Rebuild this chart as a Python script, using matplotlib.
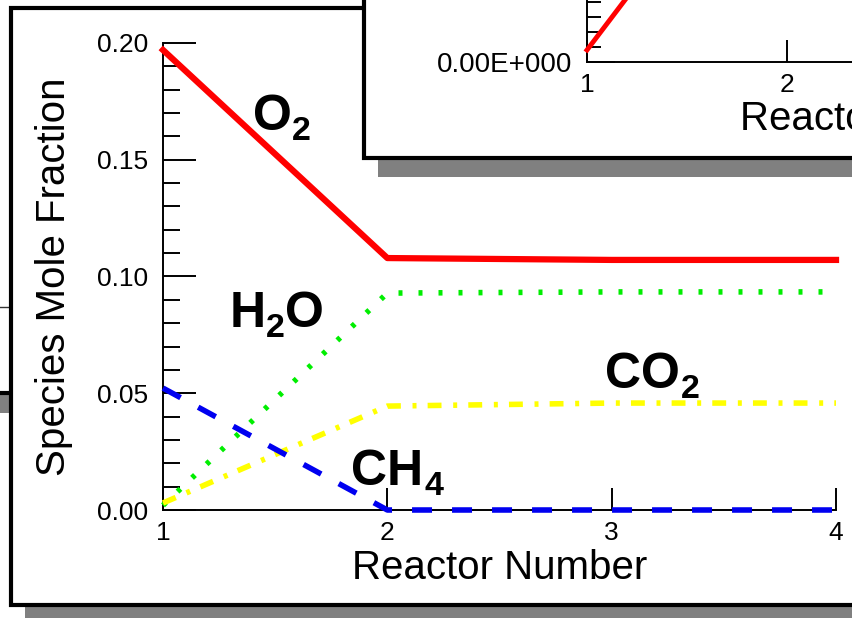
import matplotlib
matplotlib.use("Agg")
import matplotlib.pyplot as plt
from matplotlib.patches import Rectangle
from matplotlib.lines import Line2D
from matplotlib.ticker import FixedLocator, MultipleLocator, FuncFormatter

plt.rcParams["font.family"] = ["Liberation Sans", "DejaVu Sans"]

# species mole fractions along the reactor chain
reactor = [1, 2, 3, 4]
o2 = [0.197, 0.1079, 0.1071, 0.1071]
h2o = [0.002, 0.0929, 0.0934, 0.0934]
co2 = [0.003, 0.0445, 0.0458, 0.0458]
ch4 = [0.0522, 0.0, 0.0, 0.0]

# inset series (only its first reactor segment is visible)
inset_reactor = [1, 2]
inset_value = [0.8e-4, 18.4e-4]

W, H = 853, 618
fig = plt.figure(figsize=(W / 100, H / 100), dpi=100)
fig.patch.set_facecolor("white")


def px_rect(x0, y0, x1, y1, **kw):
    """Rectangle given in pixel coordinates (origin top-left)."""
    r = Rectangle((x0 / W, 1 - y1 / H), (x1 - x0) / W, (y1 - y0) / H,
                  transform=fig.transFigure, **kw)
    fig.add_artist(r)
    return r


def px_hline(y, x0, x1, **kw):
    fig.add_artist(Line2D([x0 / W, x1 / W], [1 - y / H] * 2,
                          transform=fig.transFigure, **kw))


def px_axes(x0, y0, x1, y1):
    return fig.add_axes([x0 / W, 1 - y1 / H, (x1 - x0) / W, (y1 - y0) / H])


def formula(ax, x, y, parts, size=36):
    """Bold chemical formula; odd entries of parts are subscripts."""
    base = ax.text(x, y, parts[0], fontsize=size, fontweight="bold",
                   ha="left", va="baseline", zorder=4)
    prev = base
    for i, part in enumerate(parts[1:]):
        if i % 2 == 0:
            prev = ax.annotate(part, xy=(1, 0), xycoords=prev, xytext=(0.5, 0),
                               textcoords="offset points", fontsize=size * 0.68,
                               fontweight="bold", ha="left", va="baseline", zorder=4)
        else:
            prev = ax.annotate(part, xy=(1, 0), xycoords=(prev, base),
                               fontsize=size, fontweight="bold",
                               ha="left", va="bottom", zorder=4)


SHADOW = "#808080"

# panel partly hidden on the left
px_rect(-100, 330, 100, 413, facecolor=SHADOW, edgecolor="none", zorder=-10)
px_rect(-200, 307, 90, 393, facecolor="white", edgecolor="none", zorder=-9)
px_hline(307, -200, 90, color="#333333", lw=1, zorder=-8)
px_hline(393, -200, 90, color="black", lw=3, zorder=-8)

# main panel frame + drop shadow
px_rect(25, 25, 1100, 622, facecolor=SHADOW, edgecolor="none", zorder=-7)
px_rect(11.5, 8, 1080, 605, facecolor="white", edgecolor="black", lw=3, zorder=-6)

# -- main plot --
ax = px_axes(163, 43, 836, 510)
ax.set_zorder(0)
ax.set_xlim(1, 4)
ax.set_ylim(0, 0.2)
for s in ("top", "right"):
    ax.spines[s].set_visible(False)
for s in ("left", "bottom"):
    ax.spines[s].set_linewidth(1.4)

ax.xaxis.set_major_locator(FixedLocator(reactor))
ax.yaxis.set_major_locator(MultipleLocator(0.05))
ax.yaxis.set_minor_locator(MultipleLocator(0.01))
ax.yaxis.set_major_formatter(FuncFormatter(lambda v, p: f"{v:.2f}"))
ax.tick_params(axis="y", which="major", direction="in", length=24, width=1.4,
               labelsize=19, pad=10.5)
ax.tick_params(axis="y", which="minor", direction="in", length=12, width=1.4)
ax.tick_params(axis="x", which="major", direction="in", length=16, width=1.4,
               labelsize=19, pad=8)

ax.plot(reactor, o2, color="#ff0000", lw=4.5, clip_on=False, zorder=3)
ax.plot(reactor, h2o, color="#00ee00", lw=4, dashes=(0.72, 2.88), clip_on=False, zorder=3)
ax.plot(reactor, co2, color="#ffff00", lw=4, dashes=(2.5, 2.1, 0.72, 2.0),
        clip_on=False, zorder=3)
ax.plot(reactor, ch4, color="#0000f0", lw=4, dashes=(3.6, 3.6), clip_on=False, zorder=3)

formula(ax, 1.40, 0.1627, ["O", "2"])
formula(ax, 1.295, 0.0784, ["H", "2", "O"])
formula(ax, 1.84, 0.0107, ["CH", "4"])
formula(ax, 2.972, 0.0522, ["CO", "2"])

ax.set_xlabel("Reactor Number", fontsize=29, va="baseline")
ax.xaxis.set_label_coords(0.5, (510 - 579) / 467)
ax.set_ylabel("Species Mole Fraction", fontsize=29, rotation_mode="anchor",
              ha="center", va="baseline")
ax.yaxis.set_label_coords((65 - 163) / 673, (510 - 277) / 467)

# inset frame + drop shadow
px_rect(378, -100, 1120, 177, facecolor=SHADOW, edgecolor="none", zorder=5)
px_rect(364, -120, 1100, 158.5, facecolor="white", edgecolor="black", lw=3, zorder=6)

# -- inset plot --
ix = px_axes(587, -238, 587 + 3 * 200.5, 62)
ix.set_zorder(7)
ix.set_xlim(1, 4)
ix.set_ylim(0, 20e-4)
for s in ("top", "right"):
    ix.spines[s].set_visible(False)
for s in ("left", "bottom"):
    ix.spines[s].set_linewidth(1.4)


def sci3(v, pos):
    mant, exp = f"{v:.2E}".split("E")
    return f"{mant}E{int(exp):+04d}"


ix.xaxis.set_major_locator(FixedLocator(reactor))
ix.yaxis.set_major_locator(MultipleLocator(5e-4))
ix.yaxis.set_minor_locator(MultipleLocator(1e-4))
ix.yaxis.set_major_formatter(FuncFormatter(sci3))
ix.tick_params(axis="y", which="major", direction="in", length=20, width=1.4,
               labelsize=20, pad=10.5)
ix.tick_params(axis="y", which="minor", direction="in", length=10, width=1.4)
ix.tick_params(axis="x", which="major", direction="in", length=16, width=1.4,
               labelsize=19, pad=8)
ix.plot(inset_reactor, inset_value, color="#ff0000", lw=3.5, clip_on=False, zorder=3)
ix.set_xlabel("Reactor Number", fontsize=29, va="baseline")
ix.xaxis.set_label_coords(0.5, -(130 - 62) / 300)

fig.savefig("out.png", dpi=100)
